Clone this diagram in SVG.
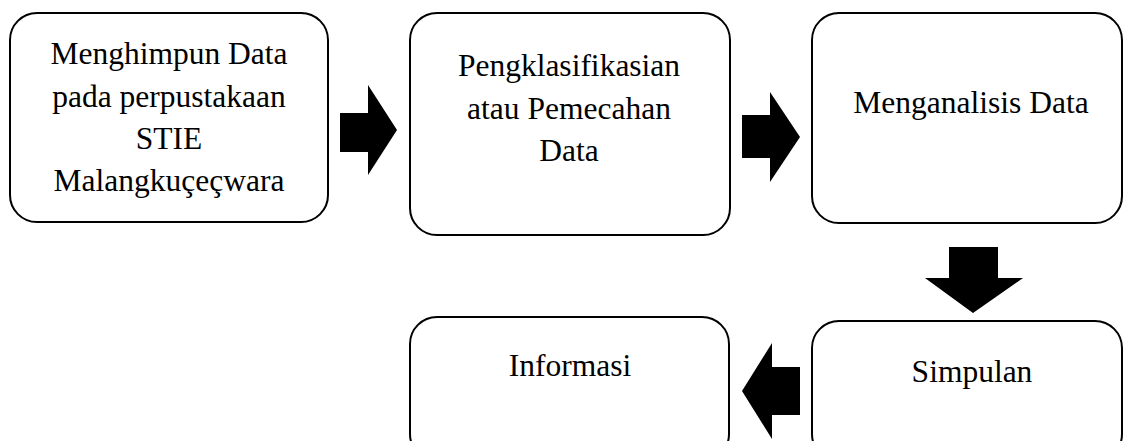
<svg xmlns="http://www.w3.org/2000/svg" width="1123" height="441" viewBox="0 0 1123 441">
<style>
.box{fill:#fff;stroke:#000;stroke-width:2}
.t{font-family:"Liberation Serif","Times New Roman",serif;font-size:31.5px;fill:#000;text-anchor:middle}
.arr{fill:#000}
</style>
<rect width="1123" height="441" fill="#fff"/>
<g id="n1"><rect class="box" x="10" y="13" width="318" height="209" rx="27"/>
<text class="t"><tspan x="169" y="64">Menghimpun Data</tspan><tspan x="169" y="106.5">pada perpustakaan</tspan><tspan x="169" y="149">STIE</tspan><tspan x="169" y="191">Malangkuçeçwara</tspan></text></g>
<g id="n2"><rect class="box" x="410" y="13" width="320" height="222" rx="27"/>
<text class="t"><tspan x="569" y="76">Pengklasifikasian</tspan><tspan x="569" y="119">atau Pemecahan</tspan><tspan x="569" y="161">Data</tspan></text></g>
<g id="n3"><rect class="box" x="812" y="13" width="310" height="210" rx="27"/>
<text class="t" x="971" y="113">Menganalisis Data</text></g>
<g id="n4"><rect class="box" x="812" y="321" width="310" height="140" rx="27"/>
<text class="t" x="972" y="382">Simpulan</text></g>
<g id="n5"><rect class="box" x="410" y="317" width="319" height="144" rx="27"/>
<text class="t" x="570" y="376">Informasi</text></g>
<g id="connectors">
<polygon class="arr" points="340,113 368,113 368,85 397,130 368,175 368,152 340,152"/>
<polygon class="arr" points="742,115 770,115 770,92 800,137 770,182 770,158 742,158"/>
<polygon class="arr" points="949,247 998,247 998,278 1023,278 973,313 925,278 949,278"/>
<polygon class="arr" points="800,367 772,367 772,343 742,391 772,439 772,415 800,415"/>
</g>
</svg>
